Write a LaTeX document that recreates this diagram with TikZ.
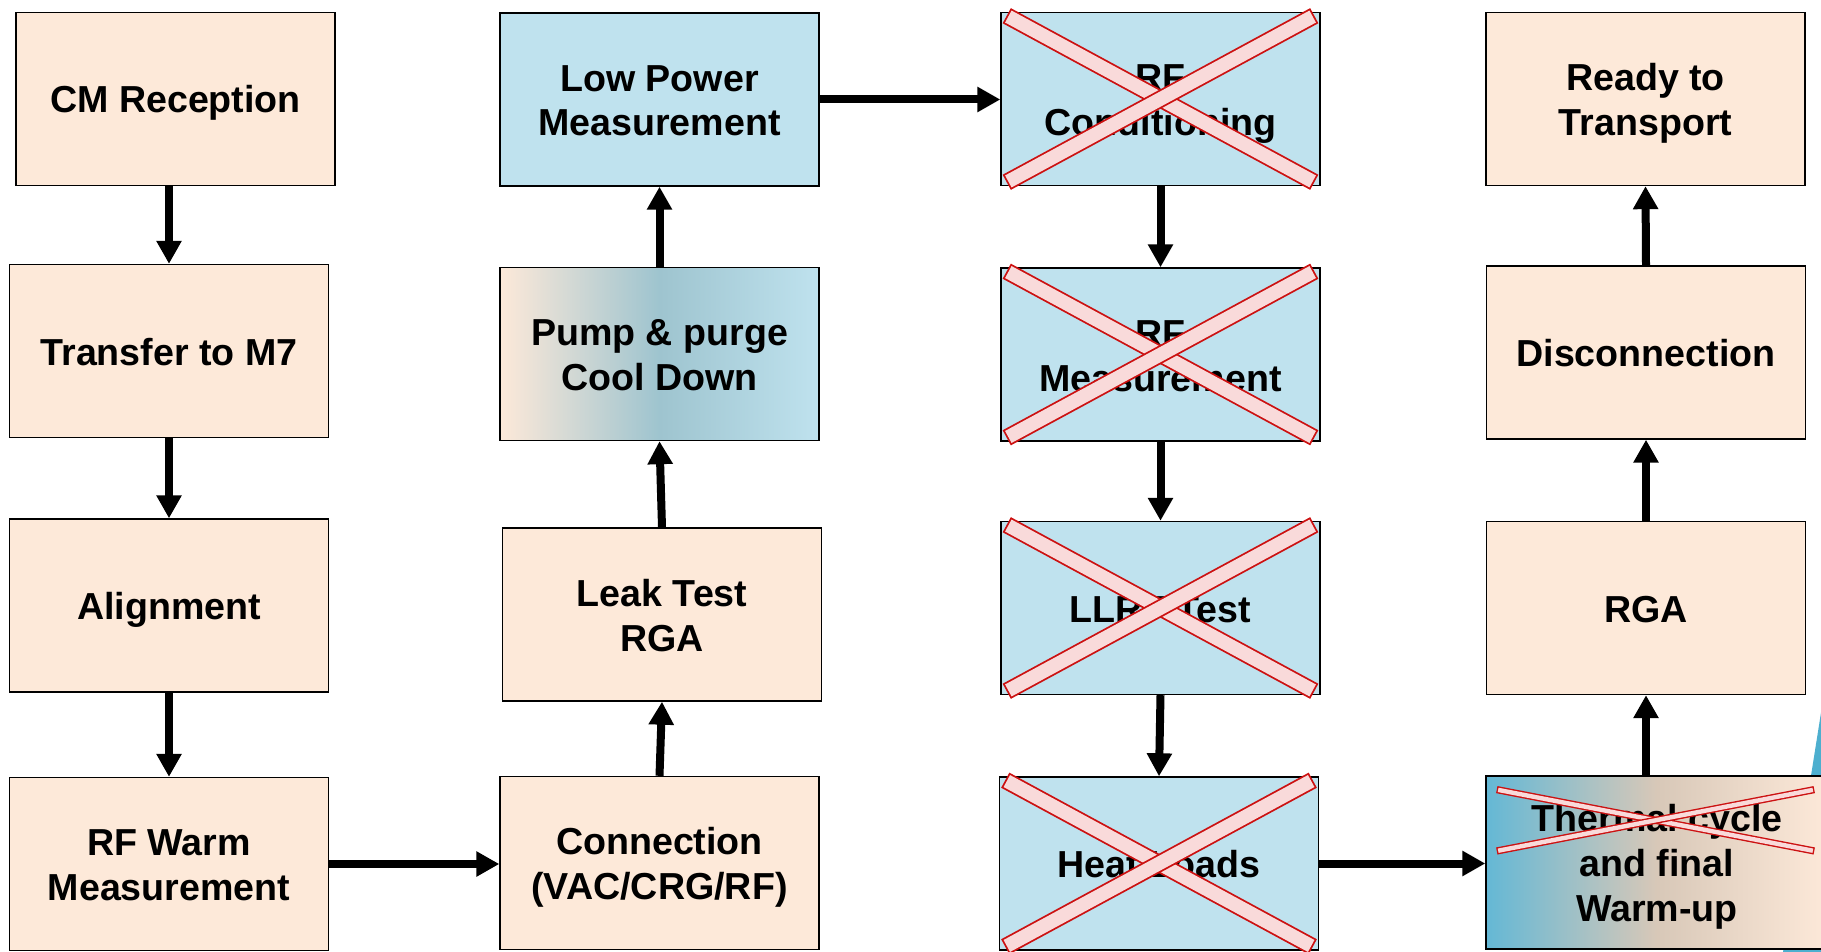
\documentclass[tikz,border=0pt]{standalone}
\usepackage{fontspec}
\setmainfont{Liberation Sans}
\usetikzlibrary{arrows.meta}

\definecolor{peach}{HTML}{FDE9D9}
\definecolor{iceblue}{HTML}{BFE2EE}
\definecolor{greyblue}{HTML}{9EC4CF}
\definecolor{deepblue}{HTML}{64B8D5}
\definecolor{sand}{HTML}{D8C8B8}
\definecolor{crossred}{HTML}{CC1111}
\definecolor{crosspink}{HTML}{F9DADA}
\definecolor{edgeteal}{HTML}{4DAFCF}

\tikzset{
  stage/.style={draw=black, line width=0.7pt, minimum width=159.5pt, minimum height=86.5pt,
    align=center, font=\fontsize{18.8}{22.4}\selectfont\bfseries},
  warmstage/.style={stage, fill=peach},
  coldstage/.style={stage, fill=iceblue},
  oneline/.style={text height=14pt, text depth=0pt},
  twoline/.style={text height=36.5pt, text depth=0pt},
  threeline/.style={text height=59pt, text depth=0pt},
  flow/.style={-{Triangle[width=12pt,length=11.5pt]}, line width=4pt},
  xmark/.style={draw=crossred, line width=0.9pt, double=crosspink, double distance=6.8pt, line cap=rect},
  thinxmark/.style={xmark, line width=0.7pt, double distance=2.2pt}
}

\begin{document}
\begin{tikzpicture}[x=0.5pt,y=-0.5pt]
\useasboundingbox (0,0) rectangle (1821,952);
\fill[edgeteal] (1823,700) -- (1783,952) -- (1830,952) -- (1830,700) -- cycle;

% reception side
\node (cm) [warmstage, oneline] at (175.5,99) {CM Reception};
\node (transfer) [warmstage, oneline] at (169,351) {Transfer to M7};
\node (align) [warmstage, oneline] at (169,605.5) {Alignment};
\node (rfwarm) [warmstage, twoline] at (169,864) {RF Warm\\Measurement};

% preparation
\node (conn) [warmstage, twoline] at (659.5,863) {Connection\\(VAC/CRG/RF)};
\node (leak) [warmstage, twoline] at (662,614.5) {Leak Test\\RGA};
\node (pump) [stage, twoline, left color=peach, right color=iceblue, middle color=greyblue] at (659.5,354) {Pump \& purge\\Cool Down};
\node (lowpow) [coldstage, twoline] at (659.5,99.5) {Low Power\\Measurement};

% cold tests
\node (rfcond) [coldstage, twoline] at (1160.5,99) {RF\\Conditioning};
\node (rfmeas) [coldstage, twoline] at (1160.5,354.5) {RF\\Measurement};
\node (llrf) [coldstage, oneline] at (1160.5,608) {LLRF Test};
\node (heat) [coldstage, oneline] at (1159,863.5) {Heat Loads};

% warm-up and dispatch
\node (thermal) [stage, threeline, minimum width=171pt, left color=deepblue, right color=peach, middle color=sand] at (1657,862.5) {Thermal cycle\\and final\\Warm-up};
\node (rga) [warmstage, oneline] at (1646,608) {RGA};
\node (disc) [warmstage, oneline] at (1646,352.5) {Disconnection};
\node (ready) [warmstage, twoline] at (1645.5,99) {Ready to\\Transport};

\draw[flow] (transfer.north |- cm.south) -- (transfer.north);
\draw[flow] (transfer.south) -- (align.north);
\draw[flow] (align.south) -- (rfwarm.north);
\draw[flow] (rfwarm.east) -- (rfwarm.east -| conn.west);
\draw[flow] (conn.north) -- (leak.south);
\draw[flow] (leak.north) -- (pump.south);
\draw[flow] (pump.north) -- (lowpow.south);
\draw[flow] (lowpow.east) -- (lowpow.east -| rfcond.west);
\draw[flow] (rfcond.south) -- (rfmeas.north);
\draw[flow] (rfmeas.south) -- (llrf.north);
\draw[flow] (llrf.south) -- (heat.north);
\draw[flow] (heat.east) -- (heat.east -| thermal.west);
\draw[flow] (rga.south |- thermal.north) -- (rga.south);
\draw[flow] (rga.north) -- (disc.south);
\draw[flow] (disc.north) -- (ready.south);

% crossed out steps
\foreach \n in {rfcond,rfmeas,llrf,heat} {
  \draw[xmark] ([shift={(14,8)}]\n.north west) -- ([shift={(-14,-8)}]\n.south east);
  \draw[xmark] ([shift={(14,-8)}]\n.south west) -- ([shift={(-14,8)}]\n.north east);
}
\draw[thinxmark] ([shift={(15,15)}]thermal.north west) -- ([shift={(-18,75)}]thermal.north east);
\draw[thinxmark] ([shift={(15,75)}]thermal.north west) -- ([shift={(-18,15)}]thermal.north east);
\end{tikzpicture}
\end{document}
